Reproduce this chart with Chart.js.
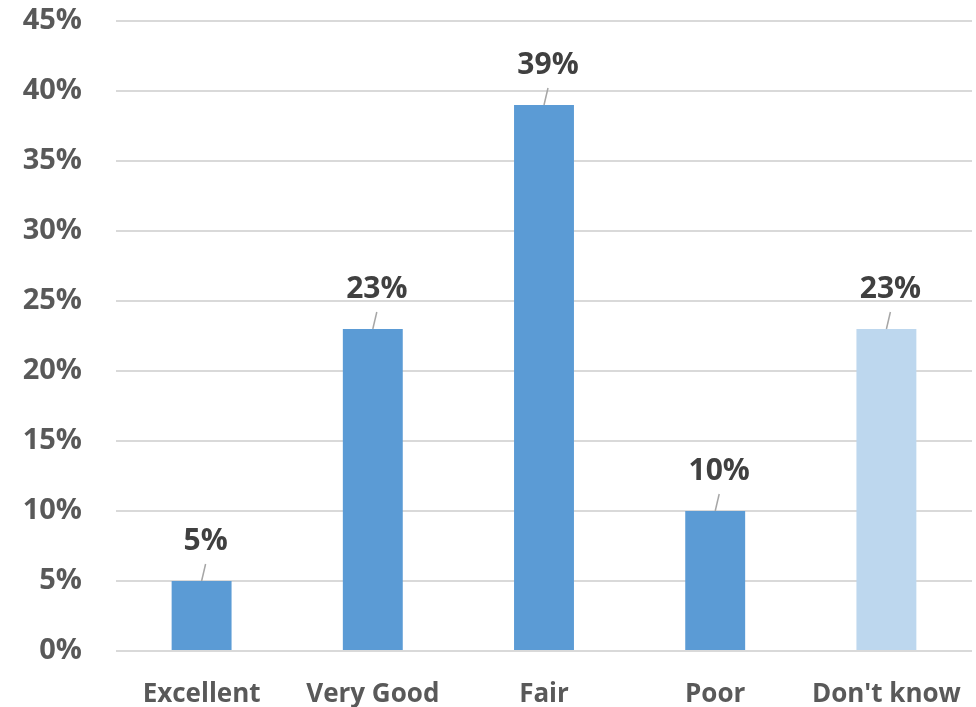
<!DOCTYPE html>
<html>
<head>
<meta charset="utf-8">
<script src="https://cdn.jsdelivr.net/npm/chart.js@4/dist/chart.umd.min.js"></script>
<style>
  html, body { margin: 0; padding: 0; background: #fff; }
  #wrap { width: 976px; height: 707px; }
</style>
</head>
<body>
<div id="wrap"><canvas id="chart" width="976" height="707"></canvas></div>
<script>
// --- data ---
const categories = ['Excellent', 'Very Good', 'Fair', 'Poor', "Don't know"];
const shares = [5, 23, 39, 10, 23];
const barColors = ['#5B9BD5', '#5B9BD5', '#5B9BD5', '#5B9BD5', '#BDD7EE'];

const FONT = "'Open Sans', 'Liberation Sans', sans-serif";

// value labels with little leader lines, like the original
const leaderLabels = {
    id: 'leaderLabels',
    afterDatasetsDraw(chart) {
        const c = chart.ctx;
        const meta = chart.getDatasetMeta(0);
        c.save();
        meta.data.forEach((bar, i) => {
            const x = bar.x, top = bar.y;
            c.strokeStyle = '#A6A6A6';
            c.lineWidth = 1.5;
            c.beginPath();
            c.moveTo(x, top);
            c.lineTo(x + 4, top - 17);
            c.stroke();
            c.fillStyle = '#404040';
            c.font = 'bold 30px ' + FONT;
            c.textAlign = 'center';
            c.textBaseline = 'middle';
            c.fillText(shares[i] + '%', x + 4, top - 40);
        });
        c.restore();
    }
};

const chart = new Chart(document.getElementById('chart'), {
    type: 'bar',
    data: {
        labels: categories,
        datasets: [{
            data: shares,
            backgroundColor: barColors,
            categoryPercentage: 1,
            barPercentage: 0.35
        }]
    },
    options: {
        responsive: false,
        animation: false,
        layout: { padding: { top: 21, right: 4, left: 0, bottom: 0 } },
        plugins: { legend: { display: false }, tooltip: { enabled: false } },
        scales: {
            x: {
                grid: { display: false },
                border: { display: false },
                ticks: { color: '#595959', font: { family: FONT, size: 26, weight: 'bold' }, padding: 20, maxRotation: 0 },
                afterFit: s => { s.height = 56; s.paddingLeft = 0; s.paddingRight = 0; }
            },
            y: {
                min: 0, max: 45,
                border: { display: false },
                grid: { color: '#D9D9D9', lineWidth: 2, drawTicks: false },
                ticks: {
                    stepSize: 5,
                    color: '#595959',
                    font: { family: FONT, size: 29, weight: 'bold' },
                    padding: 34,
                    callback: v => v + '%'
                },
                afterFit: s => { s.width = 116; s.paddingTop = 0; s.paddingBottom = 0; }
            }
        }
    },
    plugins: [leaderLabels]
});
</script>
</body>
</html>
